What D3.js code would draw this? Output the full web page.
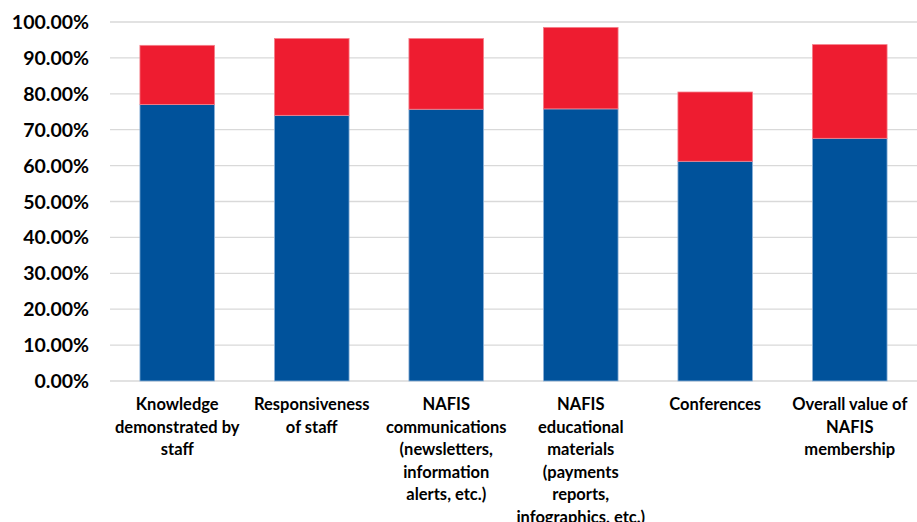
<!DOCTYPE html>
<meta charset="utf-8">
<style>
body { margin: 0; background: #fff; }
text { font-family: Lato, "Open Sans", sans-serif; font-weight: bold; fill: #000; }
.grid line { stroke: #d9d9d9; stroke-width: 1.3; }
</style>
<svg width="917" height="522"></svg>
<script src="https://d3js.org/d3.v7.min.js"></script>
<script>

var categories = [
  ["Knowledge", "demonstrated by", "staff"],
  ["Responsiveness", "of staff"],
  ["NAFIS", "communications", "(newsletters,", "information", "alerts, etc.)"],
  ["NAFIS", "educational", "materials", "(payments", "reports,", "infographics, etc.)"],
  ["Conferences"],
  ["Overall value of", "NAFIS", "membership"]
];
var lower = [77.0, 74.0, 75.7, 75.8, 61.2, 67.6];
var upper = [16.5, 21.4, 19.7, 22.7, 19.3, 26.1];
var ticks = [0, 10, 20, 30, 40, 50, 60, 70, 80, 90, 100];

var svg = d3.select("svg");

var x = d3.scaleBand()
    .domain(d3.range(categories.length))
    .range([110, 917])
    .paddingInner(0.445)
    .paddingOuter(0.2225);

var y = d3.scaleLinear()
    .domain([0, 100])
    .range([381, 22]);

// gridlines
svg.append("g")
    .attr("class", "grid")
  .selectAll("line")
  .data(ticks)
  .enter().append("line")
    .attr("x1", 110)
    .attr("x2", 917)
    .attr("y1", function(d) { return y(d); })
    .attr("y2", function(d) { return y(d); });

// y tick labels
svg.append("g")
  .selectAll("text")
  .data(ticks)
  .enter().append("text")
    .attr("x", 89)
    .attr("y", function(d) { return y(d); })
    .attr("dy", "0.36em")
    .attr("text-anchor", "end")
    .style("font-size", "19.5px")
    .text(function(d) { return d.toFixed(2) + "%"; });

var bars = svg.append("g");

bars.selectAll(".lower")
  .data(lower)
  .enter().append("rect")
    .attr("x", function(d, i) { return x(i); })
    .attr("width", x.bandwidth())
    .attr("y", function(d) { return y(d); })
    .attr("height", function(d) { return y(0) - y(d); })
    .attr("fill", "#00529b")
    .attr("stroke", "#8fb4d9")
    .attr("stroke-width", 0.8);

bars.selectAll(".upper")
  .data(upper)
  .enter().append("rect")
    .attr("x", function(d, i) { return x(i); })
    .attr("width", x.bandwidth())
    .attr("y", function(d, i) { return y(lower[i] + d); })
    .attr("height", function(d, i) { return y(lower[i]) - y(lower[i] + d); })
    .attr("fill", "#ee1c30")
    .attr("stroke", "#f5808b")
    .attr("stroke-width", 0.8);

// category labels
var lab = svg.append("g")
  .selectAll("text")
  .data(categories)
  .enter().append("text")
    .attr("x", function(d, i) { return x(i) + x.bandwidth() / 2; })
    .attr("y", 410)
    .attr("text-anchor", "middle")
    .style("font-size", "16.5px");

lab.selectAll("tspan")
  .data(function(d) { return d; })
  .enter().append("tspan")
    .attr("x", function() { return d3.select(this.parentNode).attr("x"); })
    .attr("dy", function(d, i) { return i ? 22.6 : 0; })
    .text(function(d) { return d; });

</script>
